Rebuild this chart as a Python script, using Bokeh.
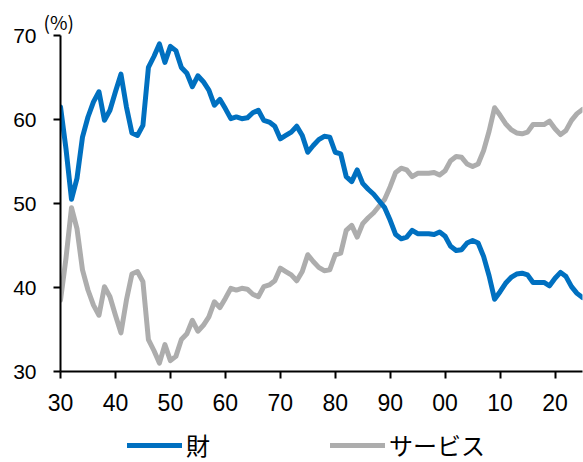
from bokeh.plotting import figure
from bokeh.layouts import column
from bokeh.models import FixedTicker, Legend, LegendItem, Range1d, Title
from bokeh.embed import file_html
from bokeh.resources import INLINE

# Share of consumption: goods vs services (%), yearly
years = list(range(1930, 2026))

goods = [
    61.5, 56.5, 50.5, 53.0, 57.9, 60.3, 62.1, 63.3, 59.9, 61.1,   # 1930s
    63.3, 65.4, 61.5, 58.4, 58.1, 59.3, 66.2, 67.5, 69.0, 66.8,   # 1940s
    68.7, 68.2, 66.2, 65.5, 63.9, 65.2, 64.5, 63.5, 61.7, 62.4,   # 1950s
    61.3, 60.1, 60.3, 60.1, 60.2, 60.8, 61.1, 59.9, 59.7, 59.2,   # 1960s
    57.7, 58.1, 58.5, 59.2, 58.1, 56.1, 56.9, 57.6, 58.0, 57.9,   # 1970s
    56.1, 55.9, 53.2, 52.6, 54.0, 52.4, 51.7, 51.1, 50.3, 49.5,   # 1980s
    48.0, 46.3, 45.8, 46.0, 46.8, 46.4, 46.4, 46.4, 46.3, 46.6,   # 1990s
    46.1, 44.9, 44.4, 44.5, 45.3, 45.6, 45.3, 43.7, 41.4, 38.6,   # 2000s
    39.5, 40.5, 41.2, 41.6, 41.7, 41.5, 40.6, 40.6, 40.6, 40.2,   # 2010s
    41.1, 41.8, 41.3, 40.1, 39.3, 38.8,                           # 2020s
]

services = [
    38.5, 43.5, 49.5, 47.0, 42.1, 39.7, 37.9, 36.7, 40.1, 38.9,
    36.7, 34.6, 38.5, 41.6, 41.9, 40.7, 33.8, 32.5, 31.0, 33.2,
    31.3, 31.8, 33.8, 34.5, 36.1, 34.8, 35.5, 36.5, 38.3, 37.6,
    38.7, 39.9, 39.7, 39.9, 39.8, 39.2, 38.9, 40.1, 40.3, 40.8,
    42.3, 41.9, 41.5, 40.8, 41.9, 43.9, 43.1, 42.4, 42.0, 42.1,
    43.9, 44.1, 46.8, 47.4, 46.0, 47.6, 48.3, 48.9, 49.7, 50.5,
    52.0, 53.7, 54.2, 54.0, 53.2, 53.6, 53.6, 53.6, 53.7, 53.4,
    53.9, 55.1, 55.6, 55.5, 54.7, 54.4, 54.7, 56.3, 58.6, 61.4,
    60.5, 59.5, 58.8, 58.4, 58.3, 58.5, 59.4, 59.4, 59.4, 59.8,
    58.9, 58.2, 58.7, 59.9, 60.7, 61.2,
]

x_ticks = [1930, 1940, 1950, 1960, 1970, 1980, 1990, 2000, 2010, 2020]
x_tick_labels = ["30", "40", "50", "60", "70", "80", "90", "00", "10", "20"]
y_ticks = [30, 40, 50, 60, 70]

series_names = ["財", "サービス"]
BLUE = "#0070C0"
GRAY = "#ADADAD"
NUM_FONT = "Liberation Sans"
JP_FONT = "Noto Sans CJK JP"

# main chart
p = figure(
    width=583, height=425,
    output_backend="svg", toolbar_location=None,
    x_range=Range1d(1930, 2025), y_range=Range1d(30, 70),
    min_border_left=60, min_border_right=1,
    min_border_top=35, min_border_bottom=54,
)
p.outline_line_color = None
p.grid.visible = False

line_style = dict(line_width=5, line_cap="round", line_join="round")
p.line(years, services, line_color=GRAY, **line_style)
p.line(years, goods, line_color=BLUE, **line_style)

for ax in (p.xaxis[0], p.yaxis[0]):
    ax.axis_line_color = "black"
    ax.axis_line_width = 2
    ax.major_tick_line_color = "black"
    ax.major_tick_line_width = 2
    ax.major_tick_in = 0
    ax.major_tick_out = 7
    ax.minor_tick_line_color = None
    ax.major_label_text_font = NUM_FONT
    ax.major_label_text_color = "black"

p.xaxis[0].ticker = FixedTicker(ticks=x_ticks)
p.xaxis[0].major_label_overrides = dict(zip(x_ticks, x_tick_labels))
p.xaxis[0].major_label_text_font_size = "23px"
p.xaxis[0].major_label_standoff = 15
p.yaxis[0].ticker = FixedTicker(ticks=y_ticks)
p.yaxis[0].major_label_text_font_size = "21px"
p.yaxis[0].major_label_standoff = 17

# unit caption above the value axis
p.add_layout(Title(text="(%)", align="left", offset=-17, standoff=2,
                   text_font=JP_FONT, text_font_size="19px",
                   text_font_style="normal", text_color="black"), "above")

# legend strip underneath (its frame lines up with the chart frame in the column)
lg = figure(
    width=583, height=37,
    output_backend="svg", toolbar_location=None,
    x_range=Range1d(0, 1), y_range=Range1d(0, 1),
    x_axis_location=None, y_axis_location=None,
    min_border=0,
)
lg.outline_line_color = None
lg.grid.visible = False
# off-range stand-ins that only carry the legend line styles
r_goods = lg.line([5, 6], [5, 6], line_color=BLUE, **line_style)
r_serv = lg.line([5, 6], [5, 6], line_color=GRAY, **line_style)

legend = Legend(
    items=[LegendItem(label=series_names[0], renderers=[r_goods]),
           LegendItem(label=series_names[1], renderers=[r_serv])],
    orientation="horizontal",
    location=(67, 0),
    label_text_font=JP_FONT,
    label_text_font_size="24px",
    label_text_color="black",
    glyph_width=55, glyph_height=20,
    label_standoff=4,
    spacing=120,
    padding=0, margin=0,
    border_line_color=None,
    background_fill_alpha=0,
)
lg.add_layout(legend, "center")

open("out.html", "w").write(file_html(column(p, lg, spacing=0), INLINE))
